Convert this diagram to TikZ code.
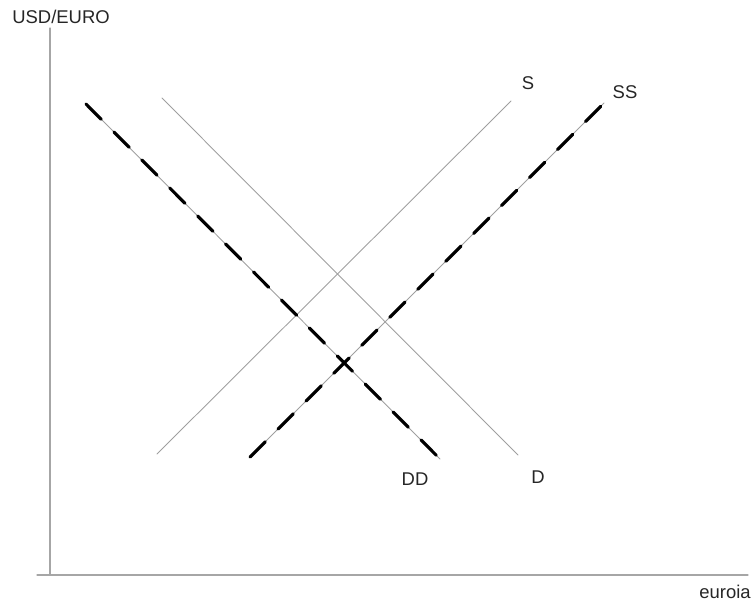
\documentclass[tikz,border=0pt]{standalone}
\usepackage{fontspec}
\setmainfont{Liberation Sans}
\usetikzlibrary{positioning}

\begin{document}
\begin{tikzpicture}[x=0.02cm,y=-0.02cm,font=\fontsize{10.5}{12}\selectfont,line cap=round,
  axis/.style={gray!70,line width=0.6pt},
  curve/.style={gray!75,line width=0.5pt},
  shifted/.style={black,line width=1.8pt,dash pattern=on 12.3pt off 10.2pt,line cap=round},
  lbl/.style={inner sep=0pt,text=black!85}]
\useasboundingbox (0,0) rectangle (754,600);
% axes
\coordinate (o) at (50,575);
\coordinate (ytop) at (50,28);
\coordinate (yfoot) at (37,575);
\coordinate (xend) at (748,575);
\draw[axis] (ytop) -- (o);
\draw[axis] (yfoot) -- (xend);
\node[lbl] (ylab) at (61,17) {USD/EURO};
\node[lbl] (xlab) at (725,592) {euroia};
% original supply and demand
\coordinate (s0) at (157,454);
\coordinate (s1) at (511,101);
\coordinate (d0) at (162,98);
\coordinate (d1) at (518,455);
\draw[curve] (s0) -- (s1);
\draw[curve] (d0) -- (d1);
\node[lbl] (slab) at (528,83) {S};
\node[lbl] (dlab) at (538,477) {D};
% new supply and demand
\coordinate (ss0) at (250,457);
\coordinate (ss1) at (604,103);
\coordinate (dd0) at (86,104);
\coordinate (dd1) at (440,459);
\draw[curve] (ss0) -- (ss1);
\draw[curve] (dd0) -- (dd1);
\draw[shifted] (ss0) -- (ss1);
\draw[shifted] (dd0) -- (dd1);
\node[lbl] (sslab) at (625,92) {SS};
\node[lbl] (ddlab) at (415,479) {DD};
\end{tikzpicture}
\end{document}
